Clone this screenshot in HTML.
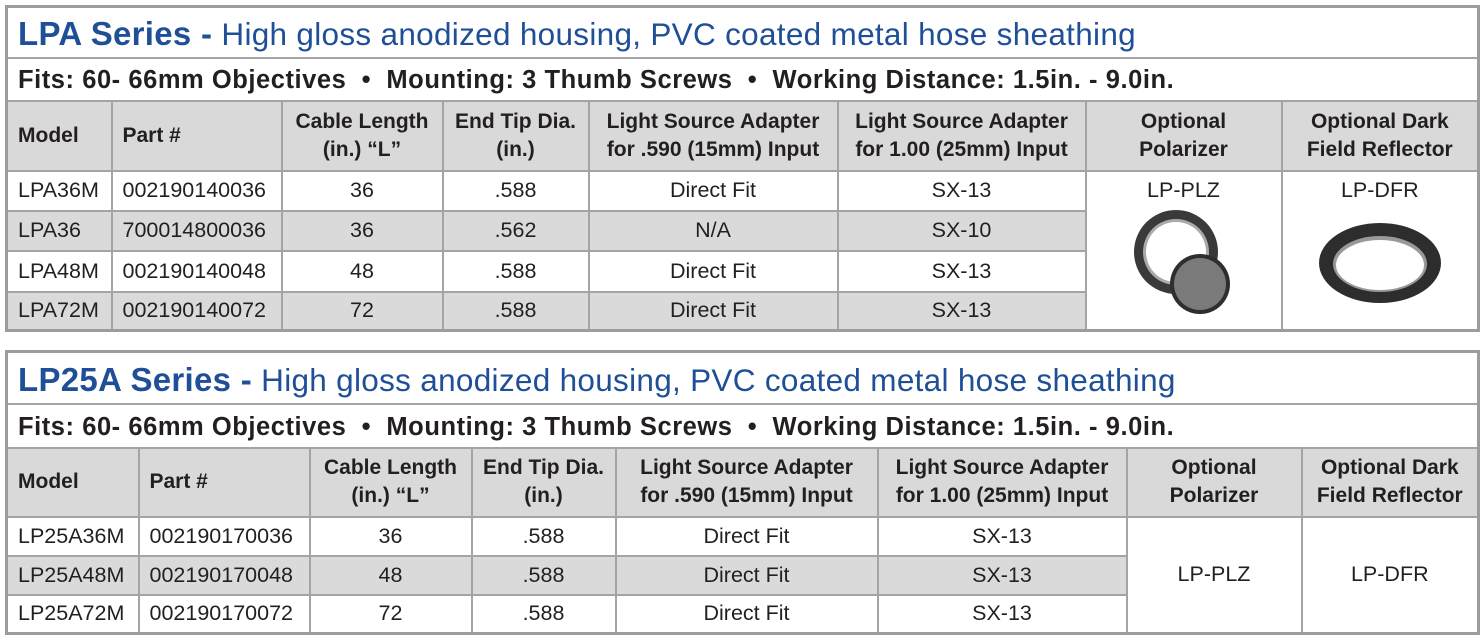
<!DOCTYPE html>
<html><head><meta charset="utf-8"><style>
body{margin:0;width:1483px;height:639px;background:#fff;position:relative;overflow:hidden;font-family:"Liberation Sans",sans-serif;color:#231f20}
table{position:absolute;left:5px;width:1473px;border-collapse:collapse;table-layout:fixed;border:3px solid #9c9c9c}
td{border:2px solid #a4a4a4;padding:0;font-size:21.5px;text-align:center;white-space:nowrap;overflow:hidden}
td.l{text-align:left;padding-left:10px}
.title{text-align:left;padding-left:10px;color:#1f4f97;font-size:31.5px;letter-spacing:0.3px;padding-top:4px}
.title b{font-size:33px}
.fits{text-align:left;padding-left:10px;font-weight:bold;font-size:25.5px;letter-spacing:0.55px;padding-top:3px}
.h td{background:#d9d9d9;font-weight:bold;font-size:21px;line-height:28px}
.g td.s{background:#dadadb}
</style></head><body>
<table style="top:5px">
<colgroup><col style="width:105px"><col style="width:170px"><col style="width:161px"><col style="width:146px"><col style="width:249px"><col style="width:248px"><col style="width:196px"><col style="width:197px"></colgroup>
<tr style="height:51px"><td colspan="8" class="title"><b>LPA Series -</b> High gloss anodized housing, PVC coated metal hose sheathing</td></tr>
<tr style="height:43px"><td colspan="8" class="fits">Fits: 60- 66mm Objectives &nbsp;•&nbsp; Mounting: 3 Thumb Screws &nbsp;•&nbsp; Working Distance: 1.5in. - 9.0in.</td></tr>
<tr class="h" style="height:70px"><td class="l">Model</td><td class="l">Part #</td><td>Cable Length<br>(in.) “L”</td><td>End Tip Dia.<br>(in.)</td><td>Light Source Adapter<br>for .590 (15mm) Input</td><td>Light Source Adapter<br>for 1.00 (25mm) Input</td><td>Optional<br>Polarizer</td><td>Optional Dark<br>Field Reflector</td></tr>
<tr style="height:40px"><td class="l">LPA36M</td><td class="l">002190140036</td><td>36</td><td>.588</td><td>Direct Fit</td><td>SX-13</td>
<td rowspan="4" style="vertical-align:top;padding-top:6px">LP-PLZ<br><svg width="100" height="108" viewBox="0 0 100 108" style="margin-top:4px"><circle cx="42" cy="45" r="42" fill="#3a3a3a"/><circle cx="42" cy="45" r="33" fill="#aaa"/><circle cx="42" cy="45" r="30" fill="#fff"/><circle cx="66" cy="77" r="30" fill="#2e2e2e"/><circle cx="66" cy="77" r="26" fill="#7a7a7a"/></svg></td>
<td rowspan="4" style="vertical-align:top;padding-top:6px">LP-DFR<br><svg width="126" height="84" viewBox="0 0 126 84" style="margin-top:18px"><ellipse cx="63" cy="42" rx="61" ry="40" fill="#2d2d2d"/><ellipse cx="63" cy="43" rx="47" ry="28" fill="#999"/><ellipse cx="63" cy="44" rx="44" ry="25" fill="#fff"/></svg></td></tr>
<tr class="g" style="height:40px"><td class="l s">LPA36</td><td class="l s">700014800036</td><td class="s">36</td><td class="s">.562</td><td class="s">N/A</td><td class="s">SX-10</td></tr>
<tr style="height:41px"><td class="l">LPA48M</td><td class="l">002190140048</td><td>48</td><td>.588</td><td>Direct Fit</td><td>SX-13</td></tr>
<tr class="g" style="height:39px"><td class="l s">LPA72M</td><td class="l s">002190140072</td><td class="s">72</td><td class="s">.588</td><td class="s">Direct Fit</td><td class="s">SX-13</td></tr>
</table>
<table style="top:350px">
<colgroup><col style="width:132px"><col style="width:171px"><col style="width:162px"><col style="width:144px"><col style="width:262px"><col style="width:249px"><col style="width:175px"><col style="width:177px"></colgroup>
<tr style="height:52px"><td colspan="8" class="title"><b>LP25A Series -</b> High gloss anodized housing, PVC coated metal hose sheathing</td></tr>
<tr style="height:44px"><td colspan="8" class="fits">Fits: 60- 66mm Objectives &nbsp;•&nbsp; Mounting: 3 Thumb Screws &nbsp;•&nbsp; Working Distance: 1.5in. - 9.0in.</td></tr>
<tr class="h" style="height:69px"><td class="l">Model</td><td class="l">Part #</td><td>Cable Length<br>(in.) “L”</td><td>End Tip Dia.<br>(in.)</td><td>Light Source Adapter<br>for .590 (15mm) Input</td><td>Light Source Adapter<br>for 1.00 (25mm) Input</td><td>Optional<br>Polarizer</td><td>Optional Dark<br>Field Reflector</td></tr>
<tr style="height:39px"><td class="l">LP25A36M</td><td class="l">002190170036</td><td>36</td><td>.588</td><td>Direct Fit</td><td>SX-13</td><td rowspan="3">LP-PLZ</td><td rowspan="3">LP-DFR</td></tr>
<tr class="g" style="height:39px"><td class="l s">LP25A48M</td><td class="l s">002190170048</td><td class="s">48</td><td class="s">.588</td><td class="s">Direct Fit</td><td class="s">SX-13</td></tr>
<tr style="height:39px"><td class="l">LP25A72M</td><td class="l">002190170072</td><td>72</td><td>.588</td><td>Direct Fit</td><td>SX-13</td></tr>
</table>
</body></html>
